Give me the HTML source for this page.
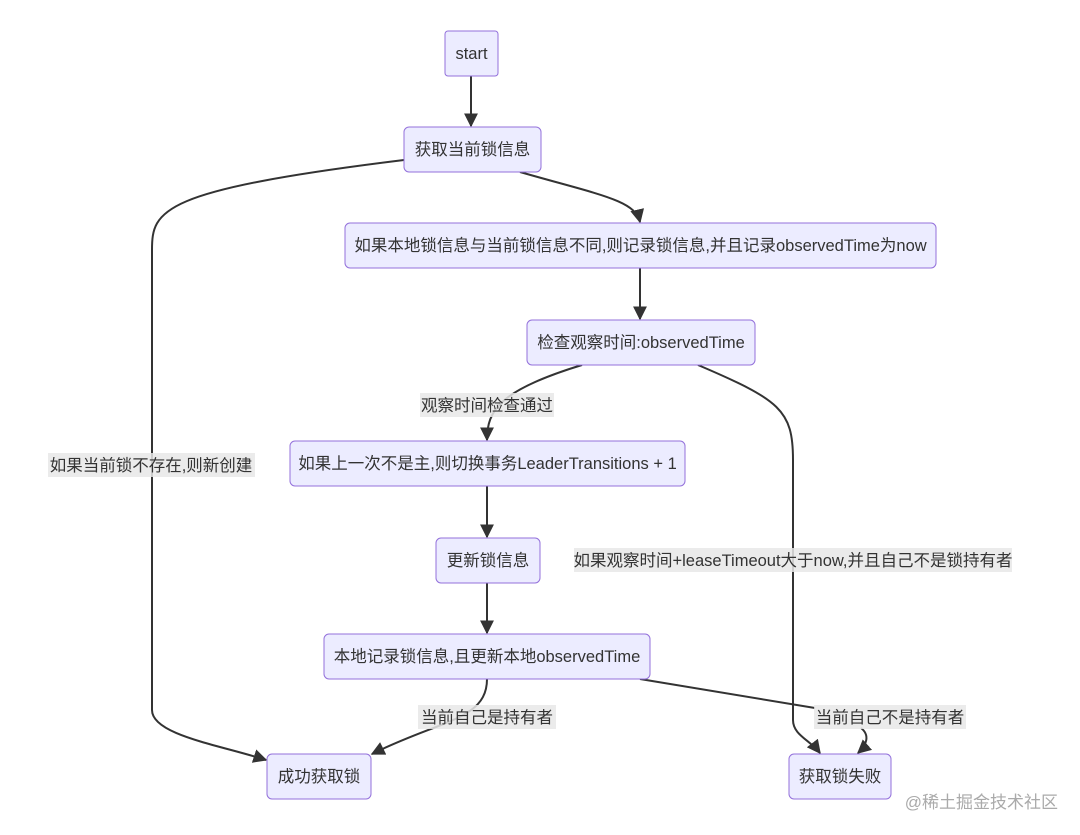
<!DOCTYPE html>
<html><head><meta charset="utf-8"><style>
html,body{margin:0;padding:0;background:#fff;}
svg{display:block}
text{font-family:"Liberation Sans","Noto Sans CJK SC",sans-serif;font-size:16.5px;fill:#333;}
.n{fill:#ECECFF;stroke:#9370DB;stroke-width:1;}
.e{fill:none;stroke:#333;stroke-width:2;}
.lb{fill:#e8e8e8;opacity:0.85}
</style></head><body>
<svg width="1080" height="835" viewBox="0 0 1080 835">
<defs><marker id="a" viewBox="0 0 10 10" refX="9" refY="5" markerWidth="7" markerHeight="7" orient="auto"><path d="M0,0L10,5L0,10z" fill="#333"/></marker></defs>

<path class="e" marker-end="url(#a)" d="M471,76 L471,126"/>
<path class="e" marker-end="url(#a)" d="M520,172 C600,195 635,200 640,222"/>
<path class="e" marker-end="url(#a)" d="M404,160 C160,190 152,210 152,250 L152,710 C152,735 220,745 266,760"/>
<path class="e" marker-end="url(#a)" d="M640,268 L640,319"/>
<path class="e" marker-end="url(#a)" d="M582,365 C500,390 487,410 487,440"/>
<path class="e" marker-end="url(#a)" d="M698,365 C780,400 793,410 793,460 L793,720 C793,735 810,740 820,753"/>
<path class="e" marker-end="url(#a)" d="M487,486 L487,537"/>
<path class="e" marker-end="url(#a)" d="M487,583 L487,633"/>
<path class="e" marker-end="url(#a)" d="M487,679 C487,720 440,720 372,754"/>
<path class="e" d="M640,679 L815,708"/>
<path class="e" marker-end="url(#a)" d="M861,728 C870,735 867,745 858,753"/>

<rect class="lb" x="48" y="453" width="207" height="24"/><text x="151" y="471" text-anchor="middle">如果当前锁不存在,则新创建</text>
<rect class="lb" x="420" y="393" width="134" height="24"/><text x="487" y="411" text-anchor="middle">观察时间检查通过</text>
<rect class="lb" x="574" y="548" width="438" height="24"/><text x="793" y="566" text-anchor="middle">如果观察时间+leaseTimeout大于now,并且自己不是锁持有者</text>
<rect class="lb" x="418" y="705" width="138" height="24"/><text x="487" y="723" text-anchor="middle">当前自己是持有者</text>
<rect class="lb" x="814" y="705" width="152" height="24"/><text x="890" y="723" text-anchor="middle">当前自己不是持有者</text>

<rect class="n" x="445" y="31" width="53" height="45" rx="3"/><text x="471.5" y="59" text-anchor="middle">start</text>
<rect class="n" x="404" y="127" width="137" height="45" rx="5"/><text x="472.5" y="155" text-anchor="middle">获取当前锁信息</text>
<rect class="n" x="345" y="223" width="591" height="45" rx="5"/><text x="640.5" y="251" text-anchor="middle">如果本地锁信息与当前锁信息不同,则记录锁信息,并且记录observedTime为now</text>
<rect class="n" x="527" y="320" width="228" height="45" rx="5"/><text x="641" y="348" text-anchor="middle">检查观察时间:observedTime</text>
<rect class="n" x="290" y="441" width="395" height="45" rx="5"/><text x="487.5" y="469" text-anchor="middle">如果上一次不是主,则切换事务LeaderTransitions + 1</text>
<rect class="n" x="436" y="538" width="104" height="45" rx="5"/><text x="488" y="566" text-anchor="middle">更新锁信息</text>
<rect class="n" x="324" y="634" width="326" height="45" rx="5"/><text x="487" y="662" text-anchor="middle">本地记录锁信息,且更新本地observedTime</text>
<rect class="n" x="267" y="754" width="104" height="45" rx="5"/><text x="319" y="782" text-anchor="middle">成功获取锁</text>
<rect class="n" x="789" y="754" width="102" height="45" rx="5"/><text x="840" y="782" text-anchor="middle">获取锁失败</text>

<text x="1058" y="808" text-anchor="end" style="fill:#aaa;font-size:17px">@稀土掘金技术社区</text>
</svg>
</body></html>
